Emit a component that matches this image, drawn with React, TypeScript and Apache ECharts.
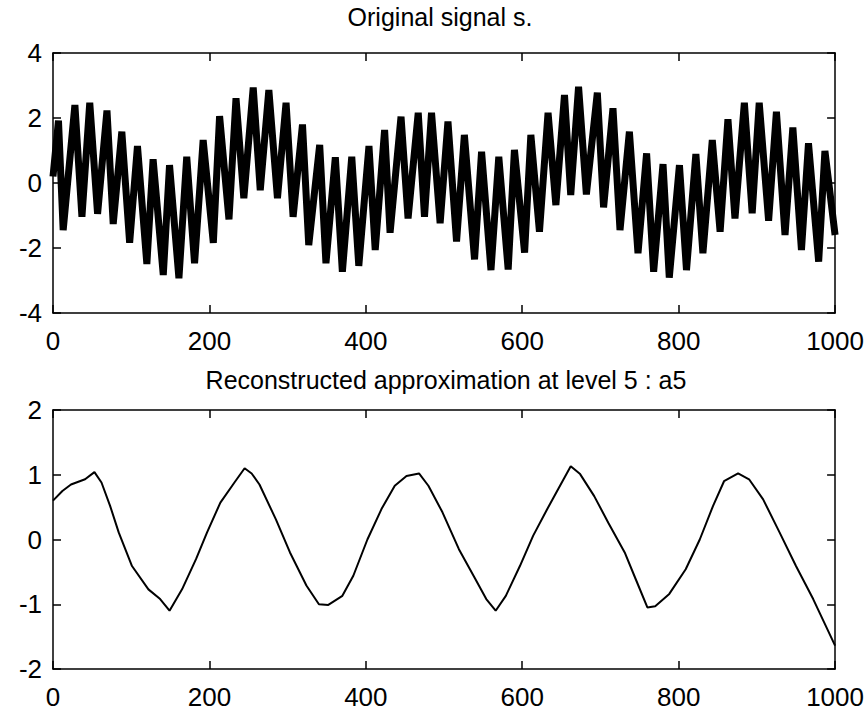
import React, { useEffect, useRef } from "react";
import * as echarts from "echarts";

// ---- Data ----
const TITLE_TOP = "Original signal s.";
const TITLE_BOTTOM = "Reconstructed approximation at level 5 : a5";

const X_MIN = 0;
const X_MAX = 1000;
const X_STEP = 200;
const TOP_Y_MIN = -4;
const TOP_Y_MAX = 4;
const TOP_Y_STEP = 2;
const BOTTOM_Y_MIN = -2;
const BOTTOM_Y_MAX = 2;
const BOTTOM_Y_STEP = 1;

// Original signal s: successive extremes (peak / trough) of the dense trace
const SIGNAL_X = [
  0, 7, 13, 28, 37, 47, 57, 69, 77, 88, 98, 108, 120, 128, 141, 149, 161, 171, 181, 192,
  205, 213, 225, 234, 244, 256, 265, 276, 287, 298, 307, 319, 327, 341, 349, 361, 370, 382,
  391, 404, 412, 424, 431, 445, 454, 467, 475, 484, 495, 505, 516, 526, 539, 548, 560, 570,
  582, 590, 603, 611, 622, 633, 643, 654, 662, 672, 682, 696, 704, 716, 725, 737, 748, 759,
  768, 780, 788, 801, 810, 822, 831, 843, 853, 863, 872, 884, 894, 903, 915, 925, 936, 946,
  957, 966, 979, 987, 1000,
];
const SIGNAL_Y = [
  0.2, 1.92, -1.45, 2.4, -1.04, 2.47, -0.95, 2.23, -1.26, 1.58, -1.84, 1.14, -2.49, 0.73,
  -2.83, 0.55, -2.93, 0.81, -2.47, 1.32, -1.84, 2.06, -1.12, 2.61, -0.47, 2.94, -0.22, 2.86,
  -0.47, 2.47, -1.04, 1.8, -1.91, 1.17, -2.47, 0.79, -2.73, 0.81, -2.55, 1.14, -2.06, 1.63,
  -1.53, 2.04, -1.09, 2.16, -1.04, 2.16, -1.24, 1.89, -1.8, 1.48, -2.35, 0.96, -2.68, 0.81,
  -2.66, 1.02, -2.14, 1.48, -1.5, 2.16, -0.68, 2.71, -0.37, 2.96, -0.35, 2.78, -0.75, 2.3,
  -1.45, 1.58, -2.16, 0.91, -2.73, 0.58, -2.91, 0.55, -2.68, 0.89, -2.16, 1.32, -1.5, 1.96,
  -1.09, 2.47, -0.93, 2.47, -1.16, 2.19, -1.6, 1.71, -2.06, 1.22, -2.42, 0.99, -1.6,
];

// Reconstructed approximation a5
const A5_X = [
  0, 12, 23, 41, 53, 62, 73, 84, 101, 122, 137, 149, 165, 183, 197, 214, 232, 245, 254, 264,
  285, 303, 324, 340, 352, 370, 384, 402, 420, 437, 452, 468, 480, 498, 519, 540, 554, 566,
  579, 597, 614, 632, 646, 662, 674, 692, 710, 731, 745, 760, 770, 788, 809, 827, 844, 858,
  876, 890, 908, 929, 950, 972, 986, 1000,
];
const A5_Y = [
  0.6, 0.75, 0.85, 0.93, 1.04, 0.88, 0.52, 0.11, -0.41, -0.77, -0.92, -1.1, -0.77, -0.3,
  0.11, 0.57, 0.88, 1.1, 1.02, 0.85, 0.31, -0.2, -0.71, -1.0, -1.01, -0.87, -0.56, 0.0, 0.47,
  0.83, 0.98, 1.02, 0.83, 0.42, -0.15, -0.61, -0.92, -1.1, -0.87, -0.41, 0.06, 0.47, 0.78,
  1.13, 1.01, 0.67, 0.26, -0.2, -0.61, -1.05, -1.03, -0.84, -0.46, 0.0, 0.52, 0.9, 1.02, 0.93,
  0.62, 0.11, -0.41, -0.92, -1.28, -1.64,
];

const FONT = "'Liberation Sans', Arial, Helvetica, sans-serif";

function makeAxis(
  gridIndex: number,
  position: string,
  showLabel: boolean,
  min: number,
  max: number,
  interval: number,
  isX: boolean
) {
  return {
    type: "value",
    gridIndex,
    position,
    min,
    max,
    interval,
    axisLine: { show: true, onZero: false, lineStyle: { color: "#000", width: 1.5 } },
    axisTick: { show: true, inside: true, length: 8, lineStyle: { color: "#000", width: 1.5 } },
    axisLabel: {
      show: showLabel,
      color: "#000",
      fontSize: 26,
      fontFamily: FONT,
      margin: isX ? 15 : 11,
      formatter: (v: number) => String(v),
    },
    splitLine: { show: false },
  };
}

export default function App() {
  const ref = useRef<HTMLDivElement>(null);

  useEffect(() => {
    if (!ref.current) return;
    const chart = echarts.init(ref.current, undefined, { renderer: "svg" });

    const signal = SIGNAL_X.map((x, i) => [x, SIGNAL_Y[i]]);
    const a5 = A5_X.map((x, i) => [x, A5_Y[i]]);

    chart.setOption({
      animation: false,
      backgroundColor: "#fff",
      grid: [
        { left: 53, top: 53, width: 783, height: 260 },
        { left: 53, top: 410, width: 783, height: 259 },
      ],
      xAxis: [
        makeAxis(0, "bottom", true, X_MIN, X_MAX, X_STEP, true),
        makeAxis(0, "top", false, X_MIN, X_MAX, X_STEP, true),
        makeAxis(1, "bottom", true, X_MIN, X_MAX, X_STEP, true),
        makeAxis(1, "top", false, X_MIN, X_MAX, X_STEP, true),
      ],
      yAxis: [
        makeAxis(0, "left", true, TOP_Y_MIN, TOP_Y_MAX, TOP_Y_STEP, false),
        makeAxis(0, "right", false, TOP_Y_MIN, TOP_Y_MAX, TOP_Y_STEP, false),
        makeAxis(1, "left", true, BOTTOM_Y_MIN, BOTTOM_Y_MAX, BOTTOM_Y_STEP, false),
        makeAxis(1, "right", false, BOTTOM_Y_MIN, BOTTOM_Y_MAX, BOTTOM_Y_STEP, false),
      ],
      graphic: [
        {
          type: "text",
          x: 440,
          y: 17,
          style: {
            text: TITLE_TOP,
            fill: "#000",
            fontSize: 25,
            fontFamily: FONT,
            align: "center",
            verticalAlign: "middle",
            textAlign: "center",
            textVerticalAlign: "middle",
          },
        },
        {
          type: "text",
          x: 446,
          y: 380,
          style: {
            text: TITLE_BOTTOM,
            fill: "#000",
            fontSize: 25,
            fontFamily: FONT,
            align: "center",
            verticalAlign: "middle",
            textAlign: "center",
            textVerticalAlign: "middle",
          },
        },
      ],
      series: [
        {
          type: "line",
          xAxisIndex: 0,
          yAxisIndex: 0,
          data: signal,
          symbol: "none",
          showSymbol: false,
          lineStyle: { color: "#000", width: 7, join: "bevel" },
        },
        {
          type: "line",
          xAxisIndex: 2,
          yAxisIndex: 2,
          data: a5,
          symbol: "none",
          showSymbol: false,
          lineStyle: { color: "#000", width: 2 },
        },
      ],
    });

    return () => chart.dispose();
  }, []);

  return (
    <div
      ref={ref}
      style={{ position: "fixed", left: 0, top: 0, width: 867, height: 711, background: "#fff" }}
    />
  );
}
